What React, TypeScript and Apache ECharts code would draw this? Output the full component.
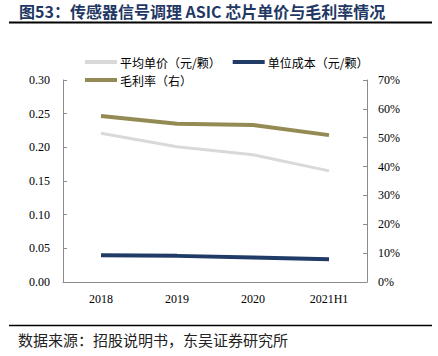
import React, { useEffect, useRef } from "react";
import * as echarts from "echarts";

const categories = ["2018", "2019", "2020", "2021H1"];
const avgPrice = [0.221, 0.201, 0.189, 0.165];
const unitCost = [0.0397, 0.0388, 0.0365, 0.0337];
const grossMargin = [57.5, 54.8, 54.4, 50.9];
const leftTicks = [0, 0.05, 0.1, 0.15, 0.2, 0.25, 0.3];
const rightTicks = [0, 10, 20, 30, 40, 50, 60, 70];

const serif = "'Liberation Serif', 'Noto Sans CJK SC', serif";
const cjk = "'Noto Sans CJK SC', 'Liberation Serif', serif";

export default function App() {
  const ref = useRef<HTMLDivElement>(null);
  useEffect(() => {
    if (!ref.current) return;
    const chart = echarts.init(ref.current, undefined, { renderer: "svg" });
    const axisColor = "#8c8c8c";
    chart.setOption({
      animation: false,
      backgroundColor: "#fff",
      grid: { left: 63, right: 71, top: 80, bottom: 74 },
      legend: [
        {
          data: ["平均单价（元/颗）", "单位成本（元/颗）"],
          left: 80,
          top: 51,
          icon: "rect",
          itemWidth: 32,
          itemHeight: 4,
          itemGap: 12,
          textStyle: { fontFamily: cjk, fontSize: 12, color: "#000", padding: [0, 0, 0, -2] },
        },
        {
          data: ["毛利率（右）"],
          left: 80,
          top: 69,
          icon: "rect",
          itemWidth: 32,
          itemHeight: 4,
          textStyle: { fontFamily: cjk, fontSize: 12, color: "#000", padding: [0, 0, 0, -2] },
        },
      ],
      xAxis: {
        type: "category",
        data: categories,
        boundaryGap: true,
        axisLine: { lineStyle: { color: axisColor, width: 1 } },
        axisTick: { inside: true, length: 4, lineStyle: { color: axisColor } },
        axisLabel: { fontFamily: serif, fontSize: 12, color: "#000", margin: 11 },
      },
      yAxis: [
        {
          type: "value",
          min: 0,
          max: 0.3,
          interval: 0.05,
          splitLine: { show: false },
          axisLine: { show: true, lineStyle: { color: axisColor } },
          axisTick: { show: true, inside: true, length: 4, lineStyle: { color: axisColor } },
          axisLabel: {
            fontFamily: serif,
            fontSize: 12,
            color: "#000",
            margin: 13,
            formatter: (v: number) => {
              const t = leftTicks.find((x) => Math.abs(x - v) < 1e-9);
              return (t ?? v).toFixed(2);
            },
          },
        },
        {
          type: "value",
          min: 0,
          max: 70,
          interval: 10,
          position: "right",
          splitLine: { show: false },
          axisLine: { show: true, lineStyle: { color: axisColor } },
          axisTick: { show: true, inside: true, length: 4, lineStyle: { color: axisColor } },
          axisLabel: {
            fontFamily: serif,
            fontSize: 12,
            color: "#000",
            margin: 11,
            formatter: (v: number) => {
              const t = rightTicks.find((x) => Math.abs(x - v) < 1e-9);
              return (t ?? v) + "%";
            },
          },
        },
      ],
      series: [
        {
          name: "平均单价（元/颗）",
          type: "line",
          data: avgPrice,
          yAxisIndex: 0,
          symbol: "none",
          color: "#d9d9d9",
          lineStyle: { width: 3, color: "#d9d9d9" },
        },
        {
          name: "单位成本（元/颗）",
          type: "line",
          data: unitCost,
          yAxisIndex: 0,
          symbol: "none",
          color: "#1f3b66",
          lineStyle: { width: 4, color: "#1f3b66" },
        },
        {
          name: "毛利率（右）",
          type: "line",
          data: grossMargin,
          yAxisIndex: 1,
          symbol: "none",
          color: "#948a54",
          lineStyle: { width: 4, color: "#948a54" },
        },
      ],
      graphic: [
        {
          type: "text",
          left: 19,
          top: 2,
          style: {
            text: "图53：传感器信号调理 ASIC 芯片单价与毛利率情况",
            fontFamily: cjk,
            fontSize: 16,
            lineHeight: 18,
            fontWeight: "bold",
            fill: "#1f3864",
          },
        },
        {
          type: "line",
          shape: { x1: 9, y1: 22.5, x2: 432, y2: 22.5 },
          style: { stroke: "#000", lineWidth: 2 },
        },
        {
          type: "line",
          shape: { x1: 9, y1: 325.5, x2: 432, y2: 325.5 },
          style: { stroke: "#000", lineWidth: 1.5 },
        },
        {
          type: "text",
          left: 18,
          top: 332,
          style: {
            text: "数据来源：招股说明书，东吴证券研究所",
            fontFamily: cjk,
            fontSize: 15,
            fill: "#222",
          },
        },
      ],
    });
    return () => chart.dispose();
  }, []);
  return (
    <div
      ref={ref}
      style={{ width: 438, height: 356, position: "absolute", left: 0, top: 0 }}
    />
  );
}
